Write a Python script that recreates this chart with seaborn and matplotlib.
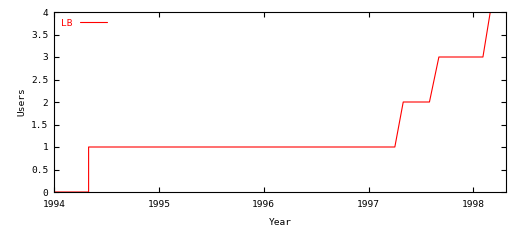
import matplotlib
matplotlib.use("Agg")
import matplotlib.pyplot as plt
import seaborn as sns
import pandas as pd

years = [1994.0, 1994.33, 1994.33, 1997.25, 1997.33, 1997.58, 1997.67, 1998.09, 1998.16, 1998.31]
users = [0, 0, 1, 1, 2, 2, 3, 3, 4, 4]
series_label = "LB"
x_ticks = [1994, 1995, 1996, 1997, 1998]
y_ticks = [0, 0.5, 1, 1.5, 2, 2.5, 3, 3.5, 4]

sns.set_theme(style="white")
plt.rcParams['font.family'] = ['DejaVu Sans Mono']
plt.rcParams['text.color'] = 'black'
plt.rcParams['axes.labelcolor'] = 'black'
plt.rcParams['xtick.color'] = 'black'
plt.rcParams['ytick.color'] = 'black'
fs = 6.8

df = pd.DataFrame({"Year": years, "Users": users})
fig = plt.figure(figsize=(5.12, 2.40), dpi=100)
ax = fig.add_axes([54/512, 48/240, 452/512, 180/240])
sns.lineplot(data=df, x="Year", y="Users", estimator=None, sort=False,
             color="#ff0000", linewidth=0.8, ax=ax, label=series_label)

ax.set_xlim(1994.0, 1998.31)
ax.set_ylim(0, 4)
ax.set_xticks(x_ticks)
ax.set_xticklabels([str(t) for t in x_ticks], fontsize=fs)
ax.set_yticks(y_ticks)
ax.set_yticklabels([f"{t:g}" for t in y_ticks], fontsize=fs)
ax.tick_params(direction="in", length=3.5, width=0.8, colors="black",
               top=True, right=True, bottom=True, left=True)
ax.tick_params(axis="x", pad=6)
ax.tick_params(axis="y", pad=4)
for s in ax.spines.values():
    s.set_color("black")
    s.set_linewidth(0.8)
ax.set_xlabel("Year", fontsize=fs, labelpad=6.5, color="black")
ax.set_ylabel("Users", fontsize=fs, labelpad=3.5, color="black")
ax.grid(False)

leg = ax.legend(loc="upper left", frameon=False, fontsize=fs, handlelength=2.9,
                markerfirst=False, borderaxespad=0.3, handletextpad=0.8)
for t in leg.get_texts():
    t.set_color("#ff0000")

fig.savefig("out.png", dpi=100)
